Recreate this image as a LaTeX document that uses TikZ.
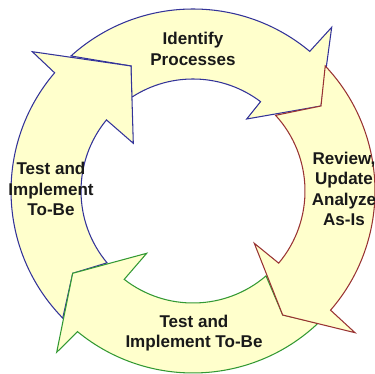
\documentclass[tikz,border=0pt]{standalone}
\usepackage{fontspec}
\setmainfont{Liberation Sans}
\usepackage{xcolor}
\definecolor{ringfill}{RGB}{255,255,204}
\definecolor{ringblue}{RGB}{51,51,153}
\definecolor{ringred}{RGB}{153,51,51}
\definecolor{ringgreen}{RGB}{51,153,51}
\tikzstyle{cycleblue} = [draw=ringblue, fill=ringfill, line width=0.6pt, line join=miter]
\tikzstyle{cyclered} = [draw=ringred, fill=ringfill, line width=0.6pt, line join=miter]
\tikzstyle{cyclegreen} = [draw=ringgreen, fill=ringfill, line width=0.6pt, line join=miter]
\tikzstyle{stagetext} = [align=center, text=black!90, font=\bfseries\fontsize{9.7}{11.6}\selectfont]

\begin{document}
\begin{tikzpicture}[x=0.02cm, y=0.02cm]
    \useasboundingbox (-193,-183) rectangle (182,191);
    \clip (-193,-183) rectangle (182,191);

    % arrow heads: outer barb, tip, inner barb
    \coordinate (topout) at (138.7,163.7);
    \coordinate (toptip) at (128,85);
    \coordinate (topin) at (53.7,72);
    \coordinate (rightout) at (162,-141.7);
    \coordinate (righttip) at (89.7,-124);
    \coordinate (rightin) at (61.3,-52.3);
    \coordinate (bottomout) at (-136.3,-161.3);
    \coordinate (bottomtip) at (-120.3,-82.3);
    \coordinate (bottomin) at (-46.3,-62.3);
    \coordinate (leftout) at (-160.7,139.3);
    \coordinate (lefttip) at (-62,125);
    \coordinate (leftin) at (-59.7,47.7);

    % ring segments, outer radius 182, inner radius 112
    \draw [cycleblue] (132.1:182) arc[start angle=132.1, end angle=50.1, radius=182]
        -- (topout) -- (toptip) -- (topin) -- (52.9:112)
        arc[start angle=52.9, end angle=123.2, radius=112] -- (lefttip) -- cycle;
    \draw [cycleblue] (224.3:182) arc[start angle=224.3, end angle=139.5, radius=182]
        -- (leftout) -- (lefttip) -- (leftin) -- (140.6:112)
        arc[start angle=140.6, end angle=219.9, radius=112] -- (bottomtip) -- cycle;
    \draw [cyclegreen] (313.4:182) arc[start angle=313.4, end angle=230.6, radius=182]
        -- (bottomout) -- (bottomtip) -- (bottomin) -- (232.1:112)
        arc[start angle=232.1, end angle=310.7, radius=112] -- (righttip) -- cycle;
    \draw [cyclered] (43.4:182) arc[start angle=43.4, end angle=-40.9, radius=182]
        -- (rightout) -- (righttip) -- (rightin) -- (-40.1:112)
        arc[start angle=-40.1, end angle=42.5, radius=112] -- (toptip) -- cycle;

    \node (identify) [stagetext] at (0,142) {Identify\\Processes};
    \node (review) [stagetext] at (151,2) {Review,\\Update\\Analyze\\As-Is};
    \node (testleft) [stagetext] at (-142,2) {Test and\\Implement\\To-Be};
    \node (testbottom) [stagetext] at (1,-142) {Test and\\Implement To-Be};
\end{tikzpicture}
\end{document}
